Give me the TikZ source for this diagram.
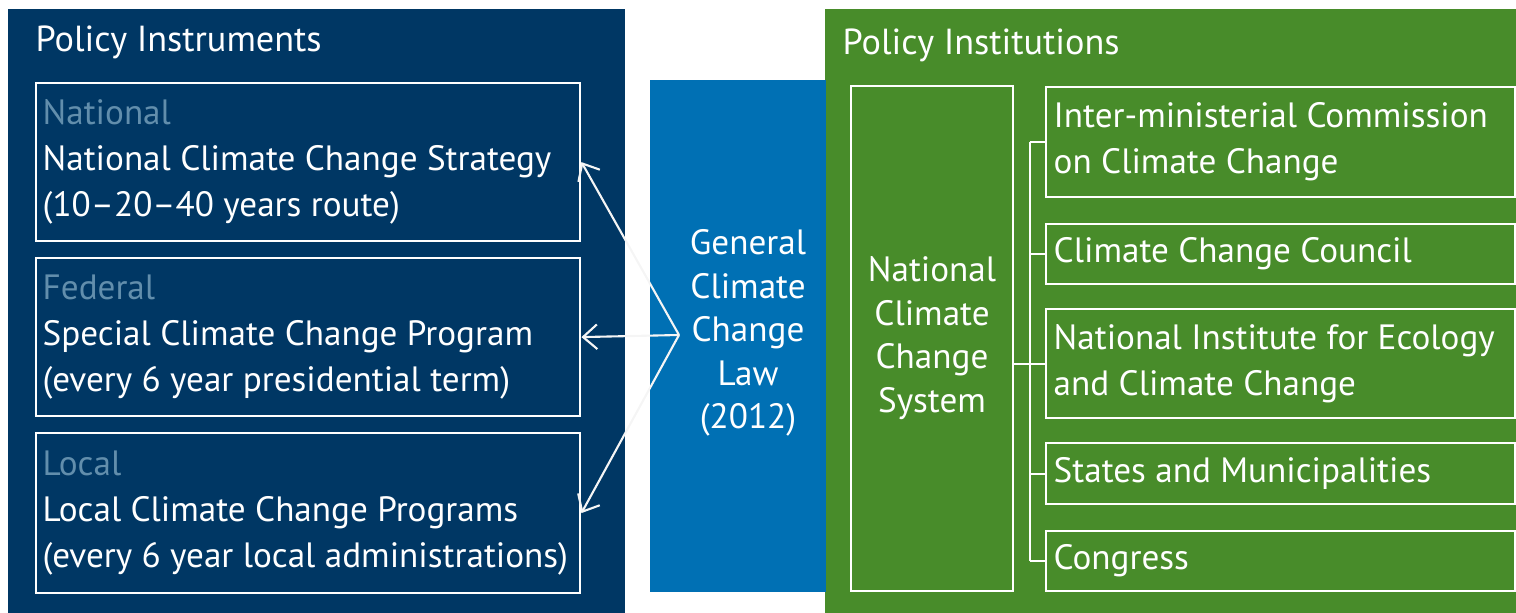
\documentclass[tikz,border=0pt]{standalone}
\usepackage{fontspec}
\setmainfont{PT Sans}
\usetikzlibrary{positioning,arrows.meta}
\definecolor{navy}{RGB}{0,55,100}
\definecolor{lawblue}{RGB}{0,112,180}
\definecolor{leaf}{RGB}{72,140,42}
\definecolor{levelgray}{RGB}{98,142,172}
\tikzset{%
	frame/.style={draw=white, line width=0.6pt, inner sep=0pt, anchor=north west},
	txt/.style={text=white, font=\fontsize{10}{13.1}\selectfont, inner sep=0pt},
	tight/.style={font=\fontsize{10}{12.4}\selectfont},
	link/.style={draw=white!92!gray, line width=0.6pt, -{Straight Barb[length=4pt,width=7pt]}},
	tie/.style={draw=white, line width=0.6pt}
}

\begin{document}
\begin{tikzpicture}[x=0.01cm, y=-0.01cm]
				\useasboundingbox (0,0) rectangle (1516,613);
				% panels
				\fill [navy] (8,9) rectangle (625,613);
				\fill [leaf] (825,9) rectangle (1516,613);
				\fill [lawblue] (650,80) rectangle (826,592);
				\node [txt, font=\fontsize{10.3}{13.1}\selectfont, anchor=west] (instr) at (35,42) {Policy Instruments};
				\node [txt, font=\fontsize{10.3}{13.1}\selectfont, anchor=west] (instit) at (842,45) {Policy Institutions};
				% policy instruments
				\node [frame, minimum width=5.44cm, minimum height=1.58cm] (nat) at (35,82) {};
				\node [frame, minimum width=5.44cm, minimum height=1.58cm] (fed) at (35,257) {};
				\node [frame, minimum width=5.44cm, minimum height=1.60cm] (loc) at (35,432) {};
				\node [txt, align=left, anchor=west] (natT) at ([xshift=0.07cm]nat.west)
					{\textcolor{levelgray}{National}\\National Climate Change Strategy\\(10--20--40 years route)};
				\node [txt, align=left, anchor=west] (fedT) at ([xshift=0.07cm]fed.west)
					{\textcolor{levelgray}{Federal}\\Special Climate Change Program\\(every 6 year presidential term)};
				\node [txt, align=left, anchor=west] (locT) at ([xshift=0.07cm]loc.west)
					{\textcolor{levelgray}{Local}\\Local Climate Change Programs\\(every 6 year local administrations)};
				% law
				\node [txt, tight, align=center] (law) at (748,333) {General\\Climate\\Change\\Law\\(2012)};
				\coordinate (apex) at (679,335);
				\draw [link] (apex) -- (nat.east);
				\draw [link] (apex) -- (fed.east);
				\draw [link] (apex) -- (loc.east);
				% policy institutions
				\node [frame, minimum width=1.62cm, minimum height=5.05cm] (sys) at (850,85) {};
				\node [txt, tight, align=center] (sysT) at (932,338) {National\\Climate\\Change\\System};
				\node [frame, minimum width=4.69cm, minimum height=1.10cm] (icc) at (1045,86) {};
				\node [frame, minimum width=4.69cm, minimum height=0.60cm] (ccc) at (1045,223) {};
				\node [frame, minimum width=4.69cm, minimum height=1.09cm] (inecc) at (1045,308) {};
				\node [frame, minimum width=4.69cm, minimum height=0.61cm] (sm) at (1045,442) {};
				\node [frame, minimum width=4.69cm, minimum height=0.60cm] (cong) at (1045,530) {};
				\node [txt, align=left, anchor=west] (iccT) at ([xshift=0.08cm]icc.west) {Inter-ministerial Commission\\on Climate Change};
				\node [txt, align=left, anchor=west] (cccT) at ([xshift=0.08cm]ccc.west) {Climate Change Council};
				\node [txt, align=left, anchor=west] (ineccT) at ([xshift=0.08cm]inecc.west) {National Institute for Ecology\\and Climate Change};
				\node [txt, align=left, anchor=west] (smT) at ([xshift=0.08cm]sm.west) {States and Municipalities};
				\node [txt, align=left, anchor=west] (congT) at ([xshift=0.08cm]cong.west) {Congress};
				% bracket
				\coordinate (spine) at (1030,0);
				\draw [tie] (spine |- icc.west) -- (spine |- cong.west);
				\draw [tie] (sys.east |- inecc.west) -- (inecc.west);
				\foreach \b in {icc,ccc,sm,cong}
					\draw [tie] (spine |- \b.west) -- (\b.west);
			\end{tikzpicture}
\end{document}
